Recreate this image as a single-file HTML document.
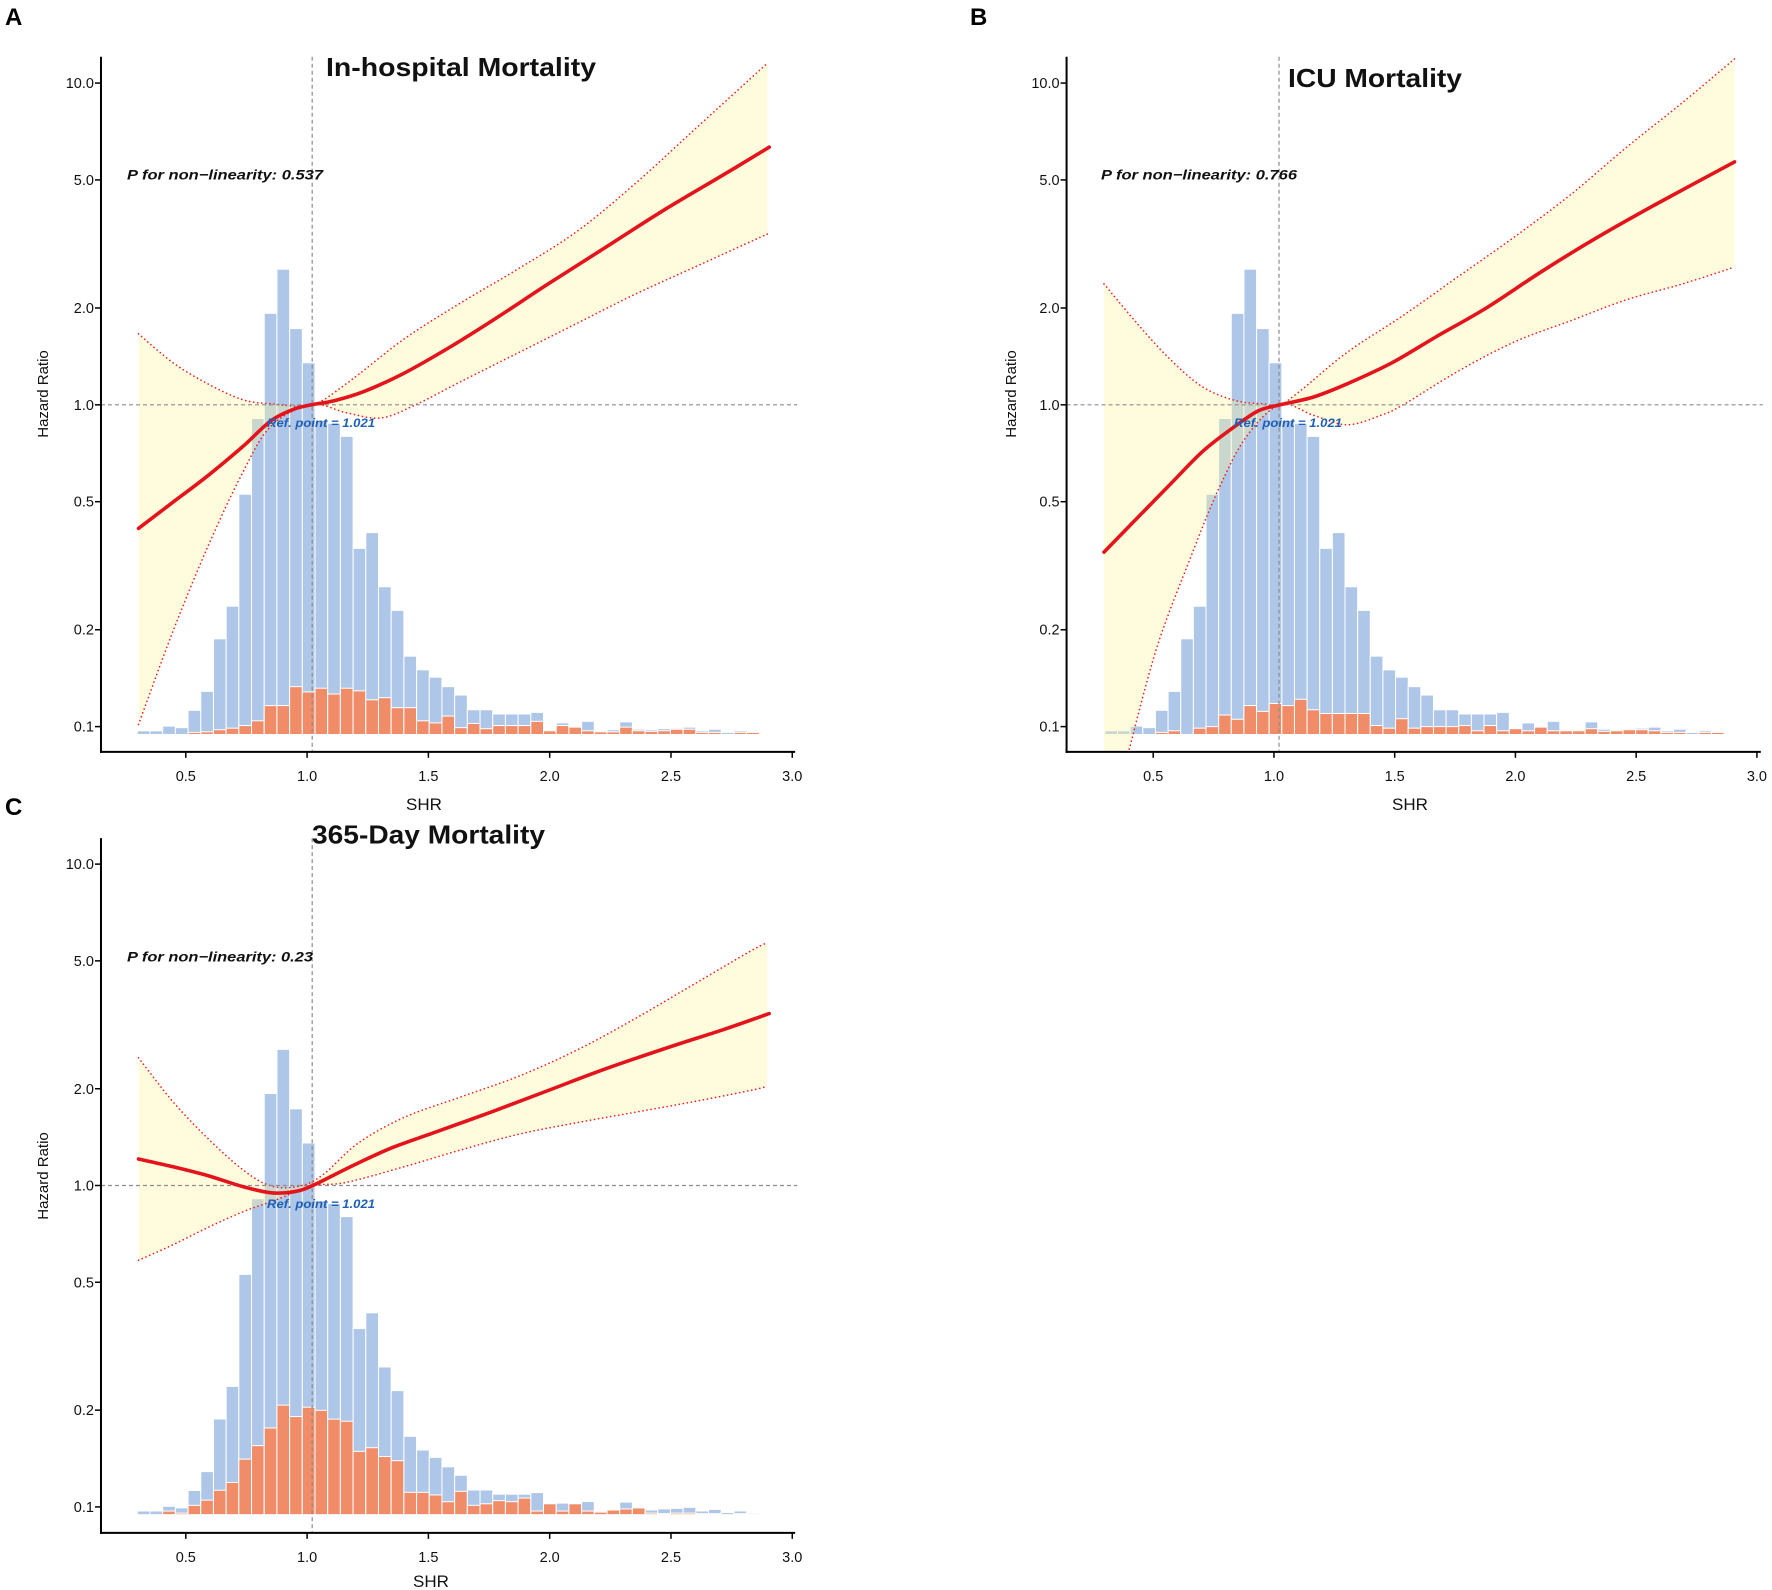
<!DOCTYPE html>
<html><head><meta charset="utf-8"><style>
html,body{margin:0;padding:0;background:#fff}
svg{display:block}
text{font-family:"Liberation Sans",Arial,sans-serif}
</style></head><body>
<svg id="s" width="1772" height="1590" xmlns="http://www.w3.org/2000/svg"></svg>
<script>
const S=document.getElementById('s');let out='';
const drop=a=>a.filter((_,i)=>i!==47&&i!==48&&i!==50);
const blueTops=drop([1390,1390,1381,1384,1351,1315,1215,1153,940,796,596,512,625,690,800,805,830,1043,1013,1116,1161,1248,1274,1288,1306,1322,1350,1350,1358,1358,1358,1355,1388,1375,1382,1372,1390,1388,1373,1387,1388,1386,1385,1383,1390,1387,1393,1393,1397,1390,1393,1393]);
const P=[
{L:'A',title:'In-hospital Mortality',pv:'0.537',sx:1/1.733,sy:1/1.902,ox:0,oy:0,ax:175,top:108,bot:1430,right:1378,x05:322,xper:420.4,y1:770,ydec:612,base:1397,
 tx:[326,596,67],lx:5,ly:16,px:[127,323,174.5],rx:[267,375,423],shr:[424,804],hr:[43,394],
 orTops:[0,0,0,0,1393,1392,1388,1385,1380,1371,1342,1342,1306,1316,1309,1320,1309,1314,1331,1327,1346,1346,1371,1375,1362,1384,1376,1386,1380,1380,1380,1372,1390,1380,1383,1390,1392,1392,1383,1390,1391,1390,1387,1387,1393,1393,0,0,0,1393,1393,1393],
 main:[[240,1005],[300,955],[360,905],[420,850],[470,800],[510,778],[540,770],[580,762],[630,745],[700,710],[780,660],[860,605],[950,540],[1050,470],[1150,400],[1250,335],[1333,280]],
 up:[[240,635],[300,690],[360,730],[420,760],[470,768],[540,770],[600,730],[700,645],[800,575],[900,510],[1000,440],[1100,350],[1200,250],[1300,150],[1330,120]],
 lo:[[240,1378],[300,1200],[360,1040],[420,900],[470,810],[540,770],[600,785],[660,795],[720,770],[800,725],[900,670],[1000,615],[1100,560],[1200,510],[1300,460],[1330,445]]},
{L:'B',title:'ICU Mortality',pv:'0.766',sx:1/1.789,sy:1/1.902,ox:900,oy:0,ax:298,top:108,bot:1430,right:1540,x05:453,xper:432,y1:770,ydec:612,base:1397,
 tx:[1288,1462,78],lx:970,ly:16,px:[1101,1297,174.5],rx:[1234,1342,423],shr:[1410,804],hr:[1011,394],bandStart:[365,1432],
 orTops:[0,0,0,0,1393,1390,0,1385,1382,1360,1368,1342,1353,1338,1342,1330,1350,1357,1357,1357,1357,1380,1385,1367,1385,1382,1382,1382,1380,1390,1380,1390,1386,1390,1383,1390,1390,1390,1386,1391,1390,1388,1388,1390,1393,1393,0,0,0,1393,1393,1393],
 main:[[365,1050],[420,990],[480,925],[540,860],[590,818],[640,782],[680,770],[740,755],[800,730],[880,690],[960,640],[1050,585],[1150,515],[1250,450],[1350,390],[1493,308]],
 up:[[365,540],[420,610],[480,680],[540,735],[600,762],[650,768],[680,770],[720,740],[800,670],[900,600],[1000,525],[1100,450],[1200,370],[1300,280],[1400,195],[1493,112]],
 lo:[[410,1425],[460,1230],[520,1060],[570,930],[620,830],[680,770],[740,790],[800,808],[860,790],[900,770],[1000,705],[1100,650],[1200,610],[1300,570],[1400,540],[1493,508]]},
{L:'C',title:'365-Day Mortality',pv:'0.23',sx:1/1.733,sy:1/1.926,ox:0,oy:780,ax:175,top:112,bot:1450,right:1378,x05:322,xper:420.4,y1:781,ydec:619,base:1415,
 tx:[312,545,834.5],lx:5,ly:806,px:[127,313,956.5],rx:[267,375,1204],shr:[431,1581],hr:[43,1176],
 orTops:[0,0,1408,1412,1397,1387,1368,1353,1308,1282,1248,1204,1226,1208,1214,1231,1235,1293,1286,1303,1311,1372,1372,1377,1390,1370,1397,1394,1388,1390,1383,1408,1394,1408,1394,1408,1410,1406,1404,1402,1412,1413,1412,1412,1413,1413,0,0,0,1413,1413,1413],
 main:[[240,730],[300,745],[360,762],[420,783],[470,795],[510,793],[540,782],[580,760],[620,738],[680,708],[750,680],[850,640],[950,598],[1050,556],[1150,518],[1250,482],[1333,450]],
 up:[[240,535],[300,620],[360,690],[420,750],[470,782],[520,782],[560,760],[620,700],[700,650],[800,610],[900,570],[1000,520],[1100,460],[1200,395],[1300,330],[1330,313]],
 lo:[[240,925],[300,895],[360,862],[420,832],[480,808],[540,782],[600,775],[700,745],[800,712],[900,682],[1000,660],[1100,640],[1200,620],[1300,598],[1330,590]]}
];
function cr(pts){let d='M'+pts[0][0].toFixed(1)+','+pts[0][1].toFixed(1);
 for(let i=0;i<pts.length-1;i++){const p0=pts[Math.max(0,i-1)],p1=pts[i],p2=pts[i+1],p3=pts[Math.min(pts.length-1,i+2)];
 const c1=[p1[0]+(p2[0]-p0[0])/6,p1[1]+(p2[1]-p0[1])/6],c2=[p2[0]-(p3[0]-p1[0])/6,p2[1]-(p3[1]-p1[1])/6];
 d+=' C'+c1[0].toFixed(1)+','+c1[1].toFixed(1)+' '+c2[0].toFixed(1)+','+c2[1].toFixed(1)+' '+p2[0].toFixed(1)+','+p2[1].toFixed(1);}return d;}
P.forEach((p,k)=>{
 const X=zx=>p.ox+zx*p.sx, Y=zy=>p.oy+zy*p.sy;
 const T=a=>a.map(q=>[X(q[0]),Y(q[1])]);
 const xv=v=>X(p.x05+(v-0.5)*p.xper), yv=h=>Y(p.y1-p.ydec*Math.log10(h));
 const ax=X(p.ax),top=Y(p.top),bot=Y(p.bot),right=X(p.right),base=Y(p.base);
 out+=`<clipPath id="c${k}"><rect x="${ax}" y="${top}" width="${right-ax}" height="${bot-top}"/></clipPath>`;
 const orT=drop(p.orTops);const bw=22/420.4;
 for(let i=0;i<blueTops.length;i++){const x0=xv(0.3+bw*i),x1=xv(0.3+bw*(i+1));
  const hb=(1397-blueTops[i])/1.902; if(hb>0.5) out+=`<rect x="${x0}" y="${base-hb}" width="${x1-x0}" height="${hb}" fill="#aec7e8" stroke="#fff" stroke-width="1"/>`;
  const t=orT[i]; if(t>0){const ho=(p.base-t)*p.sy; if(ho>0.5) out+=`<rect x="${x0}" y="${base-ho}" width="${x1-x0}" height="${ho}" fill="#f08c68" stroke="#fff" stroke-width="1"/>`;}}
 const U=T(p.up),Lo=T(p.lo);
 let bandD=cr(U)+' L'+Lo[Lo.length-1].join(',')+' '+cr(Lo.slice().reverse()).replace(/^M/,'L');
 if(p.bandStart){bandD+=' L'+X(p.bandStart[0])+','+Y(p.bandStart[1]);}
 bandD+=' Z';
 out+=`<g clip-path="url(#c${k})"><path d="${bandD}" fill="#fff7a0" fill-opacity="0.35" stroke="none"/>`;
 out+=`<path d="${cr(U)}" fill="none" stroke="#ee1c1c" stroke-width="1.6" stroke-dasharray="0.1 4" stroke-linecap="round"/>`;
 out+=`<path d="${cr(Lo)}" fill="none" stroke="#ee1c1c" stroke-width="1.6" stroke-dasharray="0.1 4" stroke-linecap="round"/></g>`;
 const xr=xv(1.021);
 out+=`<line x1="${xr}" y1="${top}" x2="${xr}" y2="${bot}" stroke="#8c8c8c" stroke-width="1.2" stroke-dasharray="4 3"/>`;
 out+=`<line x1="${ax}" y1="${yv(1)}" x2="${right+2}" y2="${yv(1)}" stroke="#8c8c8c" stroke-width="1.2" stroke-dasharray="4 3"/>`;
 out+=`<path d="${cr(T(p.main))}" fill="none" stroke="#e3141b" stroke-width="3.6" stroke-linecap="round"/>`;
 out+=`<line x1="${ax}" y1="${top}" x2="${ax}" y2="${bot+1}" stroke="#000" stroke-width="2"/>`;
 out+=`<line x1="${ax-1}" y1="${bot}" x2="${right}" y2="${bot}" stroke="#000" stroke-width="2"/>`;
 [[10,'10.0'],[5,'5.0'],[2,'2.0'],[1,'1.0'],[0.5,'0.5'],[0.2,'0.2'],[0.1,'0.1']].forEach(([v,s])=>{const y=yv(v);
  out+=`<line x1="${ax-6}" y1="${y}" x2="${ax}" y2="${y}" stroke="#000" stroke-width="1.5"/><text x="${ax-7}" y="${y+5}" font-size="14.5" text-anchor="end" fill="#111">${s}</text>`;});
 [0.5,1,1.5,2,2.5,3].forEach(v=>{const x=xv(v);
  out+=`<line x1="${x}" y1="${bot}" x2="${x}" y2="${bot+6}" stroke="#000" stroke-width="1.5"/><text x="${x}" y="${bot+29}" font-size="14.5" text-anchor="middle" fill="#111">${v.toFixed(1)}</text>`;});
 out+=`<text x="${p.shr[0]}" y="${p.shr[1]+6}" font-size="17" text-anchor="middle" fill="#111">SHR</text>`;
 out+=`<text transform="translate(${p.hr[0]+5},${p.hr[1]}) rotate(-90)" font-size="15" text-anchor="middle" fill="#111">Hazard Ratio</text>`;
 out+=`<text x="${p.tx[0]}" y="${p.tx[2]+9}" font-size="26" font-weight="bold" textLength="${p.tx[1]-p.tx[0]}" lengthAdjust="spacingAndGlyphs" fill="#111">${p.title}</text>`;
 out+=`<text x="${p.lx}" y="${p.ly+9}" font-size="24" font-weight="bold" fill="#000">${p.L}</text>`;
 out+=`<text x="${p.px[0]}" y="${p.px[2]+5}" font-size="14" font-weight="bold" font-style="italic" textLength="${p.px[1]-p.px[0]}" lengthAdjust="spacingAndGlyphs" fill="#111">P for non−linearity: ${p.pv}</text>`;
 out+=`<text x="${p.rx[0]}" y="${p.rx[2]+4}" font-size="11.5" font-weight="bold" font-style="italic" textLength="${p.rx[1]-p.rx[0]}" lengthAdjust="spacingAndGlyphs" fill="#1f5fb4">Ref. point = 1.021</text>`;
});
S.innerHTML=out;
</script>
</body></html>
